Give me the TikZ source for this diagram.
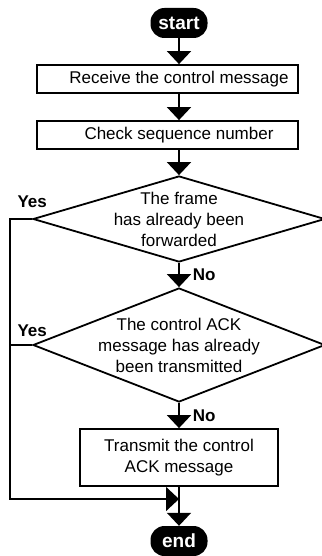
\documentclass[tikz,border=0pt]{standalone}
\usepackage{fontspec}
\setmainfont{Liberation Sans}
\usetikzlibrary{positioning,shapes.geometric,arrows.meta}

\tikzset{
  terminal/.style={fill=black, text=white, rounded corners=14pt, minimum width=57pt,
    minimum height=30pt, inner sep=0pt, font=\fontsize{19pt}{21pt}\selectfont\bfseries},
  process/.style={draw, line width=1.8pt, minimum width=261pt, minimum height=28pt,
    inner sep=0pt, align=center, font=\fontsize{17pt}{21pt}\selectfont},
  decision/.style={draw, diamond, line width=1.8pt, minimum width=292pt, inner sep=0pt},
  question/.style={inner sep=0pt, align=center, font=\fontsize{17pt}{21pt}\selectfont},
  answer/.style={inner sep=0pt, font=\fontsize{17pt}{21pt}\selectfont\bfseries},
  flow/.style={line width=1.8pt, -{Triangle[length=13pt,width=24pt]}},
  branch/.style={line width=1.8pt},
}

\begin{document}
\begin{tikzpicture}[on grid]
  \useasboundingbox (0,0) rectangle (321pt,-556pt);

  \node[terminal]                                   (start) at (179pt,-23pt) {start};
  \node[process, below=56pt of start, xshift=-11.5pt] (recv)
    {\hspace*{23pt}Receive the control message};
  \node[process, below=56pt of recv]                (check)
    {\hspace*{23pt}Check sequence number};
  \node[decision, minimum height=86pt, below=84pt of check, xshift=11.5pt,
    label={[question]center:The frame\\has already been\\forwarded}] (frame) {};
  \node[decision, minimum height=114pt, below=126pt of frame,
    label={[question]center:The control ACK\\message has already\\been transmitted}] (ack) {};
  \node[process, minimum width=198pt, minimum height=57pt, below=112.5pt of ack] (send)
    {Transmit the control\\ACK message};
  \node[terminal, below=83.5pt of send]             (end)   {end};

  \coordinate[below=41.5pt of send] (merge);
  \coordinate[left=169pt of merge]  (rail);

  \node[answer, anchor=south east] (yes1) at ([xshift=15pt,yshift=11pt]frame.west) {Yes};
  \node[answer, anchor=south east] (yes2) at ([xshift=15pt,yshift=8pt]ack.west) {Yes};

  % Connect the nodes
  \draw[flow] (start) -- (start |- recv.north);
  \draw[flow] (recv.south -| start) -- (start |- check.north);
  \draw[flow] (check.south -| start) -- (frame);
  \draw[flow] (frame) -- node[answer, right=13pt] (no1) {No} (ack);
  \draw[flow] (ack) -- node[answer, right=13pt] (no2) {No} (send);
  \draw[flow] (send) -- (end);
  \draw[flow] (frame.west) -| (rail) -- (merge);
  \draw[branch] (ack.west) -- (ack.west -| rail);
\end{tikzpicture}
\end{document}
